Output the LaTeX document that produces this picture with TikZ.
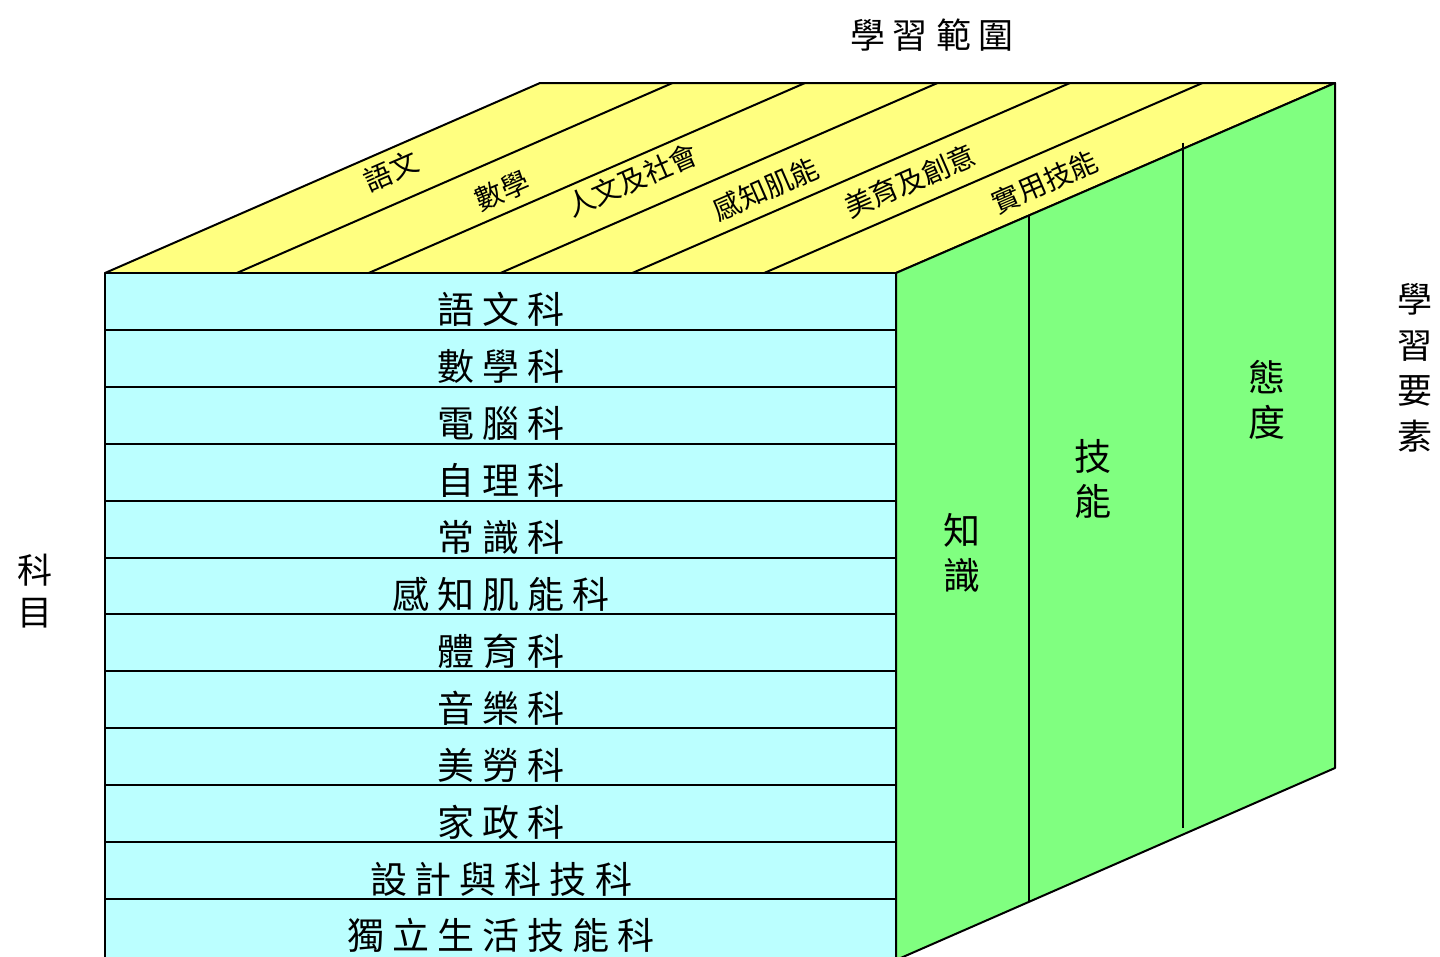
\documentclass[tikz,border=0pt]{standalone}
\usepackage{fontspec}
\newfontfamily\cjk{Noto Sans CJK TC}
\usetikzlibrary{calc}
\definecolor{topY}{RGB}{255,255,128}
\definecolor{frontC}{RGB}{187,255,255}
\definecolor{sideG}{RGB}{128,255,128}
\newcommand\gp{\hspace{8pt}}
\begin{document}
\begin{tikzpicture}[x=1pt,y=-1pt,line width=2pt,line join=round,
  rowlbl/.style={font=\cjk\fontsize{37}{40}\selectfont,inner sep=0pt},
  toplbl/.style={font=\cjk\fontsize{28}{30}\selectfont,inner sep=0pt,rotate=23.5},
  sidelbl/.style={font=\cjk\fontsize{37}{45}\selectfont,inner sep=0pt,align=center},
  outlbl/.style={font=\cjk\fontsize{35}{45}\selectfont,inner sep=0pt,align=center}]
\useasboundingbox (0,0) rectangle (1440,956);
\clip (0,0) rectangle (1440,956);
\coordinate (FTL) at (105,273);
\coordinate (FTR) at (896,273);
\coordinate (BTL) at (540,83);
\coordinate (BTR) at (1335,83);
\coordinate (FBL) at (105,960);
\coordinate (FBR) at (896,960);
\coordinate (BBR) at (1335,768);
% top face
\filldraw[fill=topY] (FTL) -- (BTL) -- (BTR) -- (FTR) -- cycle;
\foreach \k in {1,...,5}{
  \draw ($(FTL)!\k/6!(FTR)$) -- ($(BTL)!\k/6!(BTR)$);
}
% right face
\filldraw[fill=sideG] (FTR) -- (BTR) -- (BBR) -- (FBR) -- cycle;
\draw ($(FTR)!0.304!(BTR)$) -- ($(FBR)!0.304!(BBR)$);
\draw ($(FTR)!0.654!(BTR)+(0,-6)$) -- ($(FBR)!0.654!(BBR)+(0,-6)$);
% front face
\filldraw[fill=frontC] (FTL) rectangle (FBR);
\foreach \i in {1,...,11}{
  \draw (105,273+\i*56.9) -- (896,273+\i*56.9);
}
% front labels
\node[rowlbl] (r1) at (501,309) {語\gp 文\gp 科};
\node[rowlbl] (r2) at (501,366) {數\gp 學\gp 科};
\node[rowlbl] (r3) at (501,423) {電\gp 腦\gp 科};
\node[rowlbl] (r4) at (501,480) {自\gp 理\gp 科};
\node[rowlbl] (r5) at (501,537) {常\gp 識\gp 科};
\node[rowlbl] (r6) at (501,594) {感\gp 知\gp 肌\gp 能\gp 科};
\node[rowlbl] (r7) at (501,651) {體\gp 育\gp 科};
\node[rowlbl] (r8) at (501,708) {音\gp 樂\gp 科};
\node[rowlbl] (r9) at (501,765) {美\gp 勞\gp 科};
\node[rowlbl] (r10) at (501,822) {家\gp 政\gp 科};
\node[rowlbl] (r11) at (501,879) {設\gp 計\gp 與\gp 科\gp 技\gp 科};
\node[rowlbl] (r12) at (501,935) {獨\gp 立\gp 生\gp 活\gp 技\gp 能\gp 科};
% top labels
\node[toplbl] (t1) at (391,171) {語文};
\node[toplbl] (t2) at (502,191) {數學};
\node[toplbl] (t3) at (632,180) {人文及社會};
\node[toplbl] (t4) at (766,189) {感知肌能};
\node[toplbl] (t5) at (910,181) {美育及創意};
\node[toplbl] (t6) at (1045,182) {實用技能};
% right face labels
\node[sidelbl] (s1) at (962,553) {知\\識};
\node[sidelbl] (s2) at (1093,479) {技\\能};
\node[sidelbl] (s3) at (1267,400) {態\\度};
% outer labels
\node[outlbl] (o1) at (932,35) {學\hspace{8pt}習\hspace{8pt}範\hspace{8pt}圍};
\node[outlbl,font=\cjk\fontsize{35}{45.5}\selectfont] (o2) at (1415,368) {學\\習\\要\\素};
\node[outlbl,font=\cjk\fontsize{35}{42}\selectfont] (o3) at (35,591) {科\\目};
\end{tikzpicture}
\end{document}
